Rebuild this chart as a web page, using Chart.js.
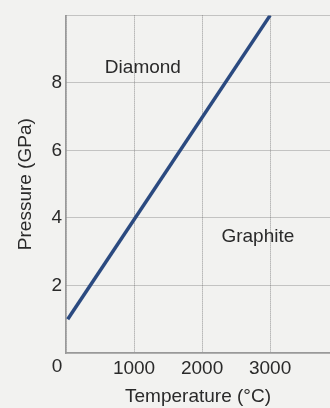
<!DOCTYPE html>
<html>
<head>
<meta charset="utf-8">
<script src="https://cdn.jsdelivr.net/npm/chart.js@4.4.0/dist/chart.umd.min.js"></script>
<style>
  html, body { margin: 0; padding: 0; background: #f2f2f0; }
  #wrap { width: 330px; height: 408px; }
</style>
</head>
<body>
<div id="wrap"><canvas id="phaseChart" width="330" height="408"></canvas></div>
<script>
// phase boundary graphite / diamond
const temperatures = [25, 3000];
const pressures = [1.0, 10.0];
const xTicks = [0, 1000, 2000, 3000];
const yTicks = [2, 4, 6, 8];
const regionLabels = [
  { text: 'Diamond', t: 1130, p: 8.45 },
  { text: 'Graphite', t: 2820, p: 3.45 }
];

const textColor = '#2a2a2a';
const gridColor = 'rgba(100,100,100,0.65)';
const fontFamily = '"Liberation Sans", Arial, sans-serif';

const regionPlugin = {
  id: 'regions',
  afterDatasetsDraw(chart) {
    const { ctx, scales } = chart;
    ctx.save();
    ctx.fillStyle = textColor;
    ctx.font = '19px ' + fontFamily;
    ctx.textAlign = 'center';
    ctx.textBaseline = 'middle';
    regionLabels.forEach(r => {
      ctx.fillText(r.text, scales.x.getPixelForValue(r.t), scales.y.getPixelForValue(r.p));
    });
    // shared origin label sits left of the corner
    ctx.fillText('0', scales.x.getPixelForValue(0) - 9, scales.y.getPixelForValue(0) + 14);
    ctx.restore();
  }
};

const ctx = document.getElementById('phaseChart').getContext('2d');
const myChart = new Chart(ctx, {
  type: 'line',
  data: {
    datasets: [{
      label: 'Phase boundary',
      data: temperatures.map((t, i) => ({ x: t, y: pressures[i] })),
      borderColor: '#2b4a80',
      borderWidth: 3.5,
      pointRadius: 0,
      fill: false
    }]
  },
  options: {
    responsive: false,
    animation: false,
    layout: { padding: { top: 14, right: 0, left: 0, bottom: 0 } },
    plugins: { legend: { display: false }, tooltip: { enabled: false } },
    scales: {
      x: {
        type: 'linear',
        min: 0,
        max: 3880,
        afterBuildTicks: axis => { axis.ticks = xTicks.map(v => ({ value: v })); },
        afterFit: axis => { axis.height = 55; },
        ticks: {
          color: textColor,
          font: { family: fontFamily, size: 19 },
          padding: 4,
          maxRotation: 0,
          callback: v => (v === 0 ? '' : v)
        },
        grid: { color: gridColor, lineWidth: 1, drawTicks: false },
        border: { color: '#999', width: 1.5, dash: [1, 1] },
        title: {
          display: true,
          text: 'Temperature (°C)',
          color: textColor,
          font: { family: fontFamily, size: 19 },
          padding: { top: 3, bottom: 0 }
        }
      },
      y: {
        type: 'linear',
        min: 0,
        max: 10,
        afterBuildTicks: axis => { axis.ticks = [0].concat(yTicks, [10]).map(v => ({ value: v })); },
        afterFit: axis => { axis.width = 66; },
        ticks: {
          color: textColor,
          font: { family: fontFamily, size: 19 },
          padding: 4,
          callback: v => (yTicks.includes(v) ? v : '')
        },
        grid: { color: gridColor, lineWidth: 1, drawTicks: false },
        border: { color: '#999', width: 1.5, dash: [1, 1] },
        title: {
          display: true,
          text: 'Pressure (GPa)',
          color: textColor,
          font: { family: fontFamily, size: 19 },
          padding: { top: 14, bottom: 0 }
        }
      }
    }
  },
  plugins: [regionPlugin]
});
</script>
</body>
</html>
